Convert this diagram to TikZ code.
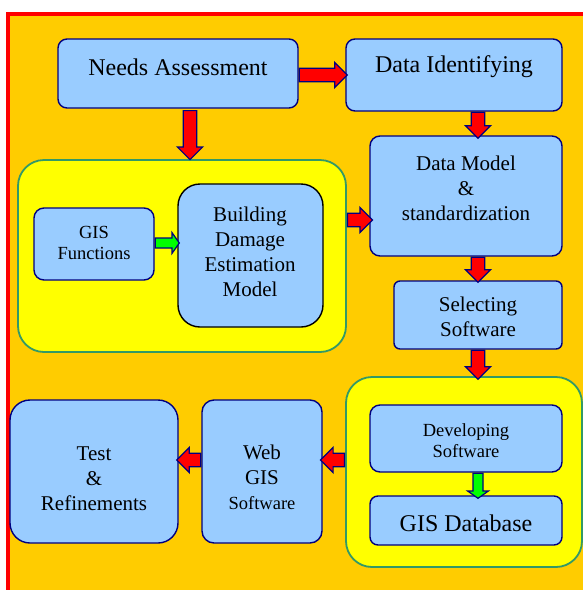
\documentclass[tikz,border=0pt]{standalone}
\usepackage{fontspec}
\setmainfont{Liberation Serif}
\usetikzlibrary{shapes.arrows,calc}
\definecolor{framered}{RGB}{255,0,0}
\definecolor{bgorange}{RGB}{255,204,0}
\definecolor{grpyellow}{RGB}{255,255,0}
\definecolor{grpedge}{RGB}{51,153,102}
\definecolor{boxfill}{RGB}{153,204,255}
\definecolor{navy}{RGB}{0,0,128}
\definecolor{arrowgreen}{RGB}{0,255,0}
\begin{document}
\begin{tikzpicture}[x=1pt,y=-1pt,
  box/.style={draw=navy, fill=boxfill, line width=1.4pt, rounded corners=#1, inner sep=0pt},
  box/.default=9pt,
  grp/.style={draw=grpedge, fill=grpyellow, line width=1.8pt, rounded corners=26pt, inner sep=0pt},
  txt/.style={align=center, inner sep=0pt, text=black},
  big/.style={font=\fontsize{24}{28}\selectfont},
  mid/.style={font=\fontsize{21}{25}\selectfont},
  sml/.style={font=\fontsize{18.5}{21}\selectfont},
  arrowbase/.style={shape=single arrow, draw=navy, line width=1.2pt,
    single arrow tip angle=90},
  % horizontal block arrows
  redarr/.style={arrowbase, fill=framered, inner xsep=0pt, inner ysep=6.2pt,
    single arrow head extend=5.8pt, minimum height=#1},
  greenarr/.style={arrowbase, fill=arrowgreen, inner xsep=0pt, inner ysep=4.4pt,
    single arrow head extend=5.4pt, single arrow tip angle=110, minimum height=#1},
  % downward block arrows
  vredarr/.style={arrowbase, fill=framered, inner ysep=0pt, inner xsep=6.2pt,
    single arrow head extend=5.8pt, minimum height=#1, shape border rotate=270},
  vgreenarr/.style={arrowbase, fill=arrowgreen, inner ysep=0pt, inner xsep=4.4pt,
    single arrow head extend=5.4pt, single arrow tip angle=110, minimum height=#1,
    shape border rotate=270},
]
\useasboundingbox (0,0) rectangle (583,590);
\clip (0,0) rectangle (583,590);

% background sheet with red frame
\fill[bgorange] (8,14) rectangle (600,600);
\draw[framered, line width=4pt] (8,600) -- (8,14) -- (600,14);

% group panels
\node[grp, minimum width=328pt, minimum height=192pt] (grp1) at (182,256) {};
\node[grp, minimum width=236pt, minimum height=190pt] (grp2) at (464,472) {};

% boxes
\node[box, minimum width=240pt, minimum height=69pt] (needs) at (178,73.5) {};
\node[txt, big] (needsT) at (178,67) {Needs Assessment};

\node[box, minimum width=216pt, minimum height=72pt] (dataid) at (454,75) {};
\node[txt, big] (dataidT) at (454,67) {Data Identifying};

\node[box=10pt, minimum width=120pt, minimum height=72pt] (gisf) at (94,244) {};
\node[txt, sml] (gisfT) at (94,243) {GIS\\Functions};

\node[box=22pt, draw=black, minimum width=145pt, minimum height=143pt] (bdem) at (250.5,255.5) {};
\node[txt, mid] (bdemT) at (250,252) {Building\\Damage\\Estimation\\Model};

\node[box=10pt, minimum width=192pt, minimum height=120pt] (dmodel) at (466,196) {};
\node[txt, mid] (dmodelT) at (466,188) {Data Model\\\&\\standardization};

\node[box=6pt, minimum width=168pt, minimum height=68pt] (select) at (478,315) {};
\node[txt, mid] (selectT) at (478,317) {Selecting\\Software};

\node[box=10pt, minimum width=192pt, minimum height=67pt] (devsw) at (466,438.5) {};
\node[txt, sml] (devswT) at (466,441) {Developing\\Software};

\node[box=8pt, minimum width=192pt, minimum height=49pt] (gisdb) at (466,520.5) {};
\node[txt, big] (gisdbT) at (466,523) {GIS Database};

\node[box=12pt, minimum width=120pt, minimum height=143pt] (websw) at (262,471.5) {};
\node[txt, mid] (webswT) at (262,477) {Web\\GIS\\{\fontsize{18.5}{25}\selectfont Software}};

\node[box=20pt, minimum width=168pt, minimum height=143pt] (test) at (94,471.5) {};
\node[txt, mid] (testT) at (94,479) {Test\\\&\\Refinements};

% block arrows between the stages
\node[redarr=48pt, anchor=tail] (a1) at (needs.east |- 0,75) {};
\node[vredarr=49pt, anchor=tail] (a2) at (190,110) {};
\node[vredarr=26pt, anchor=tail] (a3) at (478,0 |- dataid.south) {};
\node[redarr=25pt, anchor=tail] (a4) at (grp1.east |- 0,220) {};
\node[greenarr=24pt, anchor=tail] (a5) at (gisf.east |- 0,243) {};
\node[vredarr=25pt, anchor=tail] (a6) at (478,0 |- dmodel.south) {};
\node[vredarr=29pt, anchor=tail] (a7) at (478,0 |- select.south) {};
\node[vgreenarr=25pt, anchor=tail] (a8) at (478,0 |- devsw.south) {};
\node[redarr=24pt, shape border rotate=180, anchor=tail] (a9) at (grp2.west |- 0,460) {};
\node[redarr=24pt, shape border rotate=180, anchor=tail] (a10) at (websw.west |- 0,460) {};
\end{tikzpicture}
\end{document}
